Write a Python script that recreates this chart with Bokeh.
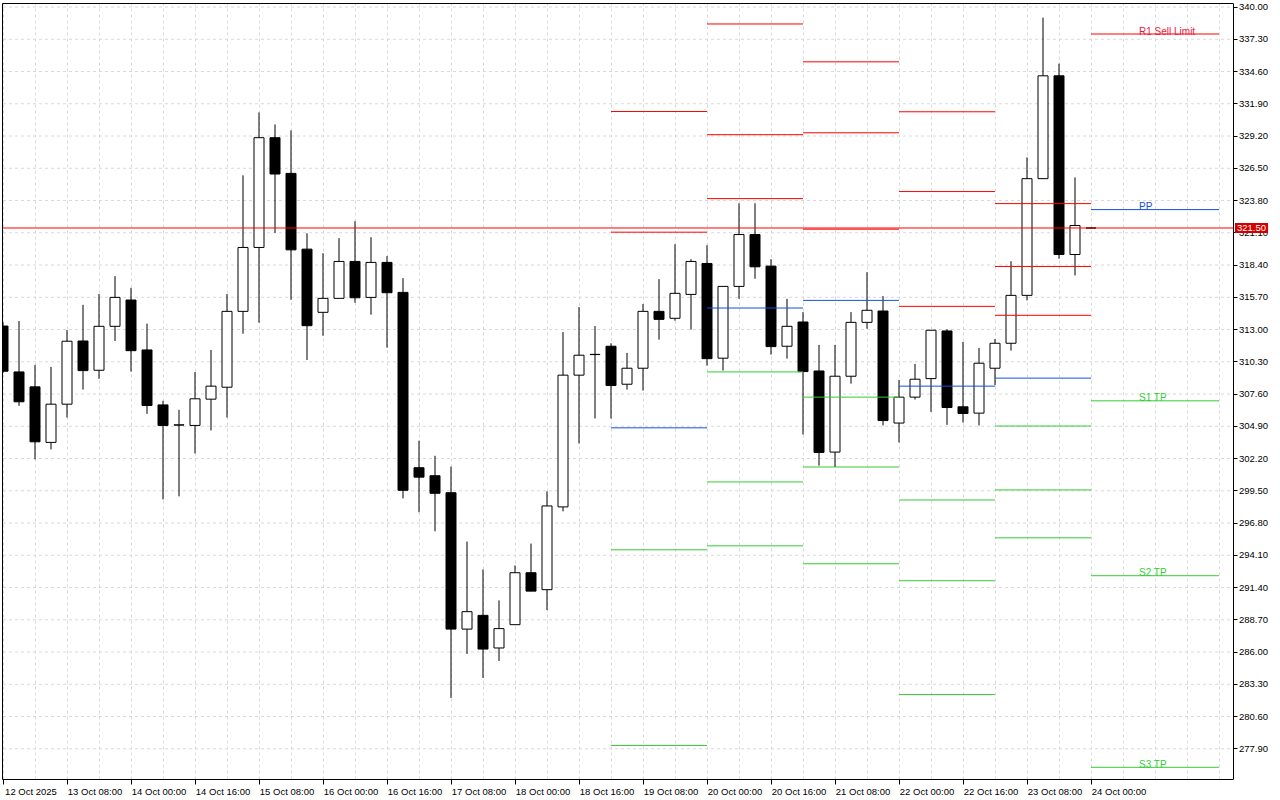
from bokeh.plotting import figure
from bokeh.models import ColumnDataSource, FixedTicker, Range1d, Label, NumeralTickFormatter, LinearAxis
from bokeh.embed import file_html
from bokeh.resources import INLINE
from bokeh.core.properties import value

# ---- H4 candles, 12 Oct 16:00 -> 24 Oct 00:00 ----
opens = [313.29, 309.45, 308.20, 303.55, 306.75, 312.04, 309.59, 313.27, 315.47, 311.29,
         306.69, 305.00, 304.97, 307.17, 308.17, 314.52, 319.87, 329.06, 326.07, 319.73,
         314.44, 315.61, 318.70, 315.69, 318.62, 316.11, 301.43, 300.76, 299.34, 287.92,
         289.07, 286.34, 288.29, 292.64, 291.22, 298.15, 309.18, 310.90, 311.60, 308.42,
         309.76, 314.52, 313.94, 315.94, 318.53, 310.60, 316.61, 320.95, 318.31, 311.60,
         313.63, 309.53, 302.74, 309.09, 313.60, 314.55, 305.17, 307.34, 308.89, 312.88,
         306.53, 306.00, 309.76, 311.85, 315.86, 325.63, 334.24, 319.28, 321.50]
highs = [313.60, 313.71, 310.04, 309.87, 312.96, 315.07, 315.97, 317.47, 316.49, 313.49,
         307.03, 306.28, 309.45, 311.29, 315.97, 325.91, 331.17, 330.17, 329.67, 321.06,
         319.39, 320.65, 322.07, 320.73, 319.14, 317.30, 303.69, 302.43, 301.52, 295.25,
         292.91, 290.32, 293.25, 295.08, 299.45, 312.79, 314.88, 313.29, 311.85, 311.04,
         315.13, 317.22, 320.14, 318.89, 320.06, 316.62, 323.57, 323.57, 318.89, 315.57,
         314.46, 311.71, 311.71, 314.46, 317.80, 315.80, 308.78, 310.12, 312.96, 313.02,
         311.96, 311.46, 312.21, 318.72, 327.41, 339.11, 335.26, 325.74, 321.55]
lows = [309.35, 306.61, 302.13, 302.96, 305.63, 307.97, 308.87, 312.04, 309.48, 305.94,
        298.78, 299.03, 302.63, 304.55, 305.63, 312.65, 313.57, 321.09, 315.49, 310.45,
        312.48, 315.60, 315.24, 314.24, 311.48, 298.87, 297.70, 296.11, 282.16, 285.84,
        283.83, 285.25, 288.27, 291.09, 289.51, 297.78, 303.46, 305.55, 305.55, 307.97,
        307.89, 312.15, 313.74, 312.99, 309.98, 309.56, 315.57, 317.25, 310.90, 310.56,
        304.21, 301.60, 301.49, 308.47, 313.07, 304.97, 303.55, 307.14, 306.11, 305.02,
        305.22, 304.97, 308.34, 311.23, 315.44, 325.62, 318.92, 317.53, 321.45]
closes = [309.51, 306.95, 303.60, 306.75, 312.02, 309.56, 313.27, 315.69, 311.23, 306.64,
          304.97, 305.02, 307.20, 308.26, 314.52, 319.87, 329.06, 326.02, 319.67, 313.32,
          315.61, 318.70, 315.66, 318.62, 316.08, 299.54, 300.64, 299.29, 287.92, 289.38,
          286.25, 287.96, 292.64, 291.10, 298.23, 309.18, 310.85, 310.92, 308.31, 309.76,
          314.52, 313.85, 316.03, 318.70, 310.56, 316.61, 320.95, 318.25, 311.57, 313.27,
          309.48, 302.71, 309.09, 313.60, 314.61, 305.38, 307.34, 308.84, 312.94, 306.47,
          305.97, 310.18, 311.85, 315.86, 325.63, 334.24, 319.28, 321.71, 321.50]

x_tick_labels = ["12 Oct 2025", "13 Oct 08:00", "14 Oct 00:00", "14 Oct 16:00", "15 Oct 08:00",
                 "16 Oct 00:00", "16 Oct 16:00", "17 Oct 08:00", "18 Oct 00:00", "18 Oct 16:00",
                 "19 Oct 08:00", "20 Oct 00:00", "20 Oct 16:00", "21 Oct 08:00", "22 Oct 00:00",
                 "22 Oct 16:00", "23 Oct 08:00", "24 Oct 00:00"]
y_ticks = [277.90, 280.60, 283.30, 286.00, 288.70, 291.40, 294.10, 296.80, 299.50, 302.20,
           304.90, 307.60, 310.30, 313.00, 315.70, 318.40, 321.10, 323.80, 326.50, 329.20,
           331.90, 334.60, 337.30, 340.00]

# ---- daily pivot levels (19 Oct .. 24 Oct), start/end bar index of each day ----
pivot_start = [38, 44, 50, 56, 62, 68]
pivot_end = [44, 50, 56, 62, 68, 76]
r3 = [None, 338.58, 335.41, 331.23, 323.54, None]
r2 = [331.25, 329.31, 329.47, 324.55, 318.28, None]
r1 = [321.15, 323.96, 321.40, 314.94, 314.19, 337.74]
pp = [304.77, 314.80, 315.44, 308.26, 308.93, 323.04]
s1 = [294.56, 309.45, 307.34, 298.73, 304.92, 307.03]
s2 = [278.18, 300.24, 301.49, 291.97, 299.57, 292.39]
s3 = [None, 294.89, 293.39, 282.44, 295.56, 276.35]
last_day_labels = ["R1 Sell Limit", "PP", "S1 TP", "S2 TP", "S3 TP"]
last_price = 321.50

RED = "#ff0000"
BLUE = "#1450dc"
GREEN = "#32cd32"
FONT = "Liberation Sans"

n = len(opens)
idx = list(range(n))
up = [c >= o for o, c in zip(opens, closes)]
src = ColumnDataSource(dict(
    x=idx, h=highs, l=lows,
    top=[max(o, c) for o, c in zip(opens, closes)],
    bottom=[min(o, c) for o, c in zip(opens, closes)],
    fill=["white" if u else "black" for u in up],
))

BAR_PX = 16.0
HALF = 0.5 / BAR_PX            # half-pixel offset so 1px strokes stay crisp
X_END = 1230 / BAR_PX          # right edge of the price area (price axis position)
X_FULL = 1270 / BAR_PX         # frame continues under the price-axis labels
p = figure(frame_width=1270, frame_height=776,
           x_range=Range1d(-HALF, X_FULL - HALF), y_range=Range1d(275.329, 340.294),
           x_axis_location="below", y_axis_location="right",
           output_backend="svg", toolbar_location=None,
           min_border=0, min_border_left=2, min_border_top=3, min_border_right=0,
           background_fill_color="white", border_fill_color="white")
p.outline_line_color = None

xax = p.below[0]
yax = p.right[0]

# grid: vertical from the library, horizontal drawn only across the price area
p.xgrid.ticker = FixedTicker(ticks=list(range(0, 77, 2)))
p.xgrid.grid_line_color = "#d9d9d9"
p.xgrid.grid_line_dash = "3 3"
p.ygrid.grid_line_color = None
p.segment(x0=[0] * len(y_ticks), x1=[X_END] * len(y_ticks), y0=y_ticks, y1=y_ticks,
          line_color="#d9d9d9", line_dash="3 3", line_width=1)

# x axis: tick marks as minor ticks at bars, labels shifted to sit right of the tick
tick_idx = list(range(0, n, 4))
shift = 1.75
label_pos = [k + shift for k in tick_idx]
xax.ticker = FixedTicker(ticks=label_pos, minor_ticks=tick_idx)
xax.major_label_overrides = {pos: lab for pos, lab in zip(label_pos, x_tick_labels)}
xax.bounds = (-HALF, X_END)
xax.major_tick_line_color = None
xax.major_tick_out = 5
xax.major_tick_in = 0
xax.minor_tick_line_color = "black"
xax.minor_tick_out = 5
xax.minor_tick_in = 0
xax.major_label_standoff = 1
xax.axis_line_color = "black"
xax.major_label_text_font = FONT
xax.major_label_text_font_size = "9.5px"
xax.major_label_text_color = "black"

# y axis pinned at the price-area edge, its labels fall inside the widened frame
yax.fixed_location = X_END
yax.ticker = FixedTicker(ticks=y_ticks)
yax.formatter = NumeralTickFormatter(format="0.00")
yax.major_tick_out = 4
yax.major_tick_in = 0
yax.minor_tick_line_color = None
yax.major_label_standoff = 2
yax.axis_line_color = "black"
yax.major_label_text_font = FONT
yax.major_label_text_font_size = "9.5px"
yax.major_label_text_color = "black"

# plain border lines on the left and top (axes without ticks or labels)
for place, bnds in (("left", "auto"), ("above", (-HALF, X_END))):
    ax = LinearAxis(ticker=FixedTicker(ticks=[]), major_tick_out=0, major_tick_in=0,
                    minor_tick_out=0, minor_tick_in=0, major_label_standoff=0,
                    axis_line_color="black", bounds=bnds)
    p.add_layout(ax, place)

# candles
p.segment(x0="x", y0="l", x1="x", y1="h", source=src, line_color="black", line_width=1)
p.vbar(x="x", top="top", bottom="bottom", width=0.625, source=src,
       fill_color="fill", line_color="black", line_width=1)

# pivot segments
seg_x0, seg_x1, seg_y, seg_c = [], [], [], []
for levels, col in ((r3, RED), (r2, RED), (r1, RED), (pp, BLUE), (s1, GREEN), (s2, GREEN), (s3, GREEN)):
    for a, b, v in zip(pivot_start, pivot_end, levels):
        if v is not None:
            seg_x0.append(a)
            seg_x1.append(b)
            seg_y.append(v)
            seg_c.append(col)
p.segment(x0=seg_x0, y0=seg_y, x1=seg_x1, y1=seg_y, line_color=seg_c, line_width=1)

# current price line across the price area
p.segment(x0=[-HALF], y0=[last_price], x1=[X_END], y1=[last_price], line_color=RED, line_width=1)

# labels for the last day's levels
lab_x = pivot_start[-1] + 3
lab_y = [r1[-1], pp[-1], s1[-1], s2[-1], s3[-1]]
lab_c = ["#f0143c", BLUE, GREEN, GREEN, GREEN]
p.text(x=[lab_x] * 5, y=lab_y, text=last_day_labels, text_color=lab_c,
       text_font=value(FONT), text_font_size="10px",
       text_baseline="alphabetic", text_align="left", y_offset=-3)

# price tag on the axis
p.add_layout(Label(x=X_END, y=last_price, text=f"{last_price:.2f}", text_color="white",
                   text_font=FONT, text_font_size="9.5px", text_baseline="middle",
                   text_align="left", x_offset=2, padding=2,
                   background_fill_color="#d40000"))

open("out.html", "w").write(file_html(p, INLINE))
